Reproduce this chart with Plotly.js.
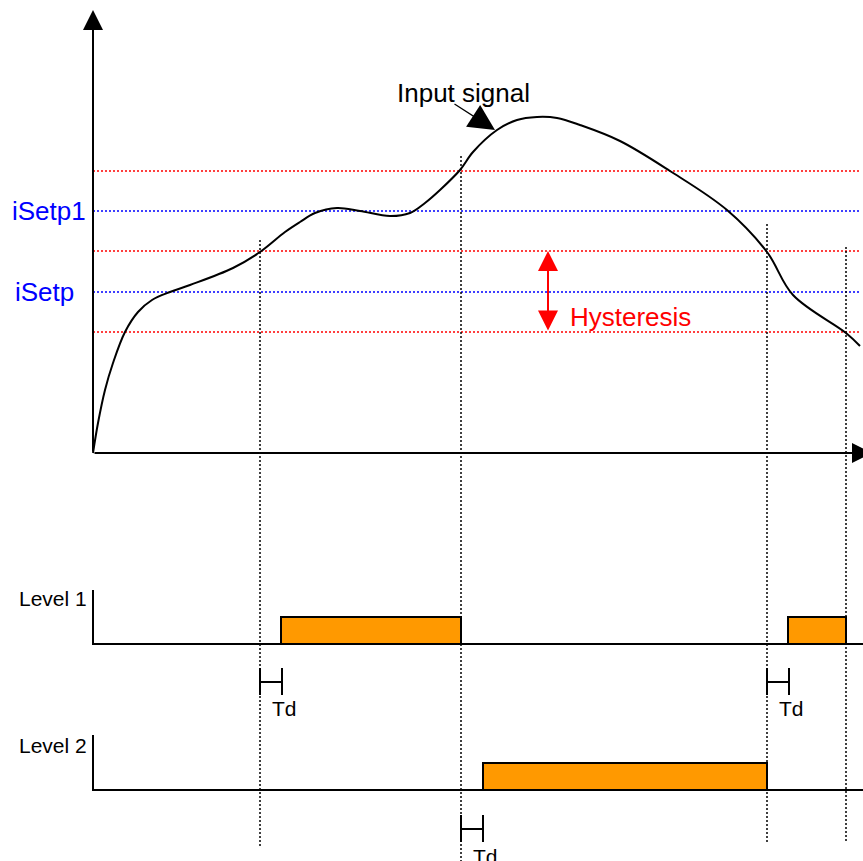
<!DOCTYPE html>
<html><head><meta charset="utf-8">
<script src="https://cdn.plot.ly/plotly-3.0.1.min.js"></script>
<style>html,body{margin:0;padding:0;background:#fff;}#chart{width:863px;height:861px;}</style>
</head><body><div id="chart"></div><script>
// ---- data (diagram units: x = time, y = downward level) ----
const signalX = [93, 98, 105, 113, 125, 138, 152, 170, 190, 233, 260, 285, 300, 315, 337, 360, 390, 410, 425, 440, 460, 473, 497, 517, 537, 557, 580, 620, 670, 727, 767, 793, 846, 860];
const signalY = [453, 423, 390, 363, 332, 312, 300, 292, 285, 268, 252, 232, 222, 213, 208, 211, 216, 213, 203, 190, 170, 152, 130, 120, 117, 118, 125, 141, 171, 210, 252, 295, 333, 346];
const hystLines = [171, 251, 332];
const setpLines = [211, 292];
const setpLabels = ['iSetp1', 'iSetp'];
const crossTimes = [260, 461, 767, 846];
const crossTops = [240, 156, 224, 247];
const crossBottoms = [847, 861, 842, 843];
const levelNames = ['Level 1', 'Level 2'];
const levelBase = [644, 790];
const levelTop = [617, 763];
const levelAxisTop = [590, 735];
const level1Start = [281, 788];
const level1End = [461, 846];
const level2Start = [483];
const level2End = [767];
const tdStart = [260, 767, 461];
const tdEnd = [282, 789, 483];
const tdRow = [682, 682, 829];

const X0 = 93, XEND = 860, XAXIS_Y = 453;

const traces = [];
function seg(xs, ys, color, width, dash) {
  traces.push({x: xs, y: ys, mode: 'lines', type: 'scatter', hoverinfo: 'skip',
    line: {color: color, width: width, dash: dash || 'solid'}, cliponaxis: false});
}
// horizontal dotted thresholds
let hx = [], hy = [];
hystLines.forEach(v => { hx.push(X0, XEND, null); hy.push(v, v, null); });
seg(hx, hy, '#ff0000', 1.5, '2px,2px');
let bx = [], by = [];
setpLines.forEach(v => { bx.push(X0, XEND, null); by.push(v, v, null); });
seg(bx, by, '#0000ff', 1.5, '2px,2px');
// vertical dotted crossings
let vx = [], vy = [];
crossTimes.forEach((t, i) => { vx.push(t, t, null); vy.push(crossTops[i], crossBottoms[i], null); });
seg(vx, vy, '#000000', 1.5, '2px,2px');
// signal
traces.push({x: signalX, y: signalY, mode: 'lines', type: 'scatter', hoverinfo: 'skip',
  line: {color: '#000', width: 2, shape: 'spline', smoothing: 1}});
// level axes
levelBase.forEach((b, i) => {
  seg([X0, X0, 863], [levelAxisTop[i], b, b], '#000', 2);
});
// level bars
function bars(starts, ends, row) {
  starts.forEach((s, i) => {
    traces.push({x: [s, s, ends[i], ends[i], s], y: [levelBase[row], levelTop[row], levelTop[row], levelBase[row], levelBase[row]],
      mode: 'lines', type: 'scatter', fill: 'toself', fillcolor: '#ff9900', hoverinfo: 'skip',
      line: {color: '#000', width: 2}});
  });
}
bars(level1Start, level1End, 0);
bars(level2Start, level2End, 1);
// Td markers
tdStart.forEach((s, i) => {
  const e = tdEnd[i], r = tdRow[i];
  seg([s, s, null, s, e, null, e, e], [r - 14, r + 13, null, r, r, null, r - 14, r + 13], '#000', 2);
});

const font = 'Liberation Sans, Arial, sans-serif';
const ann = [];
// axes arrows
ann.push({x: X0, y: 10, ax: X0, ay: XAXIS_Y, xref: 'x', yref: 'y', axref: 'x', ayref: 'y', text: '',
  showarrow: true, arrowhead: 2, arrowsize: 2, arrowwidth: 2, arrowcolor: '#000'});
ann.push({x: 872, y: XAXIS_Y, ax: X0, ay: XAXIS_Y, xref: 'x', yref: 'y', axref: 'x', ayref: 'y', text: '',
  showarrow: true, arrowhead: 2, arrowsize: 2, arrowwidth: 2, arrowcolor: '#000'});
// Input signal pointer
ann.push({x: 495, y: 130, ax: 453, ay: 103, xref: 'x', yref: 'y', axref: 'x', ayref: 'y', text: '',
  showarrow: true, arrowhead: 2, arrowsize: 4, arrowwidth: 1.3, arrowcolor: '#000'});
ann.push({x: 463, y: 93, xref: 'x', yref: 'y', text: 'Input signal', showarrow: false,
  xanchor: 'center', yanchor: 'middle', font: {family: font, size: 26, color: '#000'}});
// Hysteresis arrow
ann.push({x: 548, y: hystLines[1], ax: 548, ay: hystLines[2], xref: 'x', yref: 'y', axref: 'x', ayref: 'y', text: '',
  showarrow: true, arrowhead: 2, arrowsize: 2, arrowwidth: 2, arrowside: 'end+start', startarrowhead: 2, startarrowsize: 2, arrowcolor: '#ff0000'});
ann.push({x: 568, y: 317, xref: 'x', yref: 'y', text: 'Hysteresis', showarrow: false,
  xanchor: 'left', yanchor: 'middle', font: {family: font, size: 26, color: '#ff0000'}});
// setpoint labels
const labelX = [10, 13];
setpLabels.forEach((t, i) => {
  ann.push({x: labelX[i], y: setpLines[i], xref: 'x', yref: 'y', text: t, showarrow: false,
    xanchor: 'left', yanchor: 'middle', font: {family: font, size: 26, color: '#0000ff'}});
});
// level labels
const levelLabelY = [598, 745];
levelNames.forEach((t, i) => {
  ann.push({x: 89, y: levelLabelY[i], xref: 'x', yref: 'y', text: t, showarrow: false,
    xanchor: 'right', yanchor: 'middle', font: {family: font, size: 21, color: '#000'}});
});
// Td labels
const tdLabelY = [708, 708, 856];
tdStart.forEach((s, i) => {
  ann.push({x: tdEnd[i] + 2, y: tdLabelY[i], xref: 'x', yref: 'y', text: 'Td', showarrow: false,
    xanchor: 'center', yanchor: 'middle', font: {family: font, size: 21, color: '#000'}});
});

const layout = {
  width: 863, height: 861, margin: {l: 0, r: 0, t: 0, b: 0},
  paper_bgcolor: '#fff', plot_bgcolor: '#fff', showlegend: false,
  xaxis: {range: [0, 863], visible: false, fixedrange: true},
  yaxis: {range: [861, 0], visible: false, fixedrange: true},
  annotations: ann
};
Plotly.newPlot('chart', traces, layout, {displayModeBar: false, staticPlot: true});
</script></body></html>
